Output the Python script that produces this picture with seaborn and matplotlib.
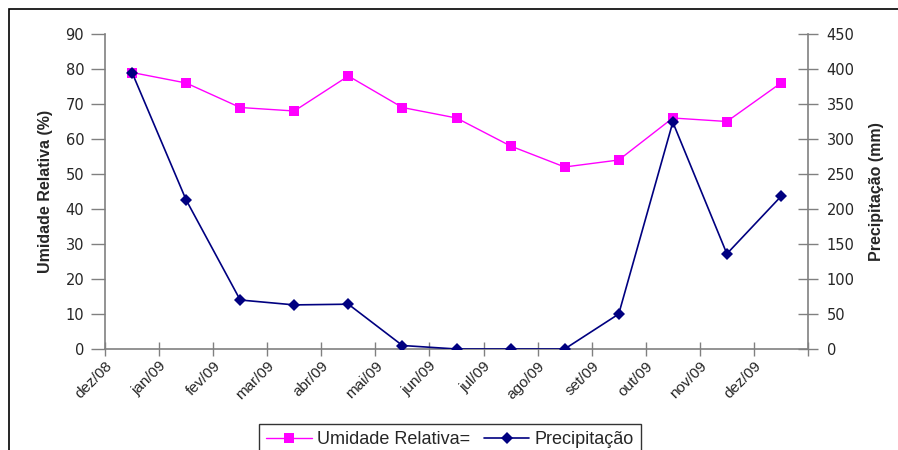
import matplotlib
matplotlib.use("Agg")
import matplotlib.pyplot as plt
import seaborn as sns
import pandas as pd
import numpy as np
from matplotlib.patches import Rectangle

months = ["dez/08", "jan/09", "fev/09", "mar/09", "abr/09", "mai/09", "jun/09",
          "jul/09", "ago/09", "set/09", "out/09", "nov/09", "dez/09"]
umidade = [79, 76, 69, 68, 78, 69, 66, 58, 52, 54, 66, 65, 76]
precipitacao = [395, 213, 70, 63, 64, 5, 0, 0, 0, 50, 324, 136, 218]

sns.set_theme(style="white")
plt.rcParams['font.family'] = ['Liberation Sans', 'DejaVu Sans']

df = pd.DataFrame({"pos": np.arange(len(months)) + 0.5,
                   "Umidade": umidade, "Precip": precipitacao})

fig = plt.figure(figsize=(8.98, 4.5), dpi=100)
fig.patch.set_facecolor("white")
fig.patches.append(Rectangle((9/898, -0.1), 1.2, 1 - 9/450 + 0.1, transform=fig.transFigure,
                             fill=False, edgecolor="black", linewidth=1.2, zorder=-1))

ax = fig.add_axes([105/898, 1 - 349/450, (808-105)/898, (349-34)/450])
ax2 = ax.twinx()

sns.lineplot(data=df, x="pos", y="Umidade", ax=ax, color="#FF00FF", marker="s",
             markersize=7, markeredgewidth=0, linewidth=1, label="Umidade Relativa=", legend=False)
sns.lineplot(data=df, x="pos", y="Precip", ax=ax2, color="#000080", marker="D",
             markersize=6, markeredgewidth=0, linewidth=1.2, label="Precipitação", legend=False)

ax.set_xlim(0, len(months))
ax.set_ylim(0, 90)
ax2.set_ylim(0, 450)
ax.set_yticks(np.arange(0, 91, 10))
ax2.set_yticks(np.arange(0, 451, 50))
ax.set_xticks(np.arange(0, len(months) + 1))
ax.set_xticklabels(months + [""], rotation=45, ha="right", rotation_mode="anchor")

for a in (ax, ax2):
    for s in a.spines.values():
        s.set_color("#808080")
        s.set_linewidth(1.2)
    a.spines["top"].set_visible(False)
    a.grid(False)
ax.spines["right"].set_visible(False)
ax2.spines["left"].set_visible(False)
ax2.spines["bottom"].set_visible(False)

ax.tick_params(axis="y", direction="out", length=10, width=1, color="#808080",
               labelsize=10.5, pad=5, left=True)
ax.tick_params(axis="x", direction="inout", length=10, width=1, color="#808080",
               labelsize=11, pad=2, bottom=True)
ax2.tick_params(axis="y", direction="inout", length=15, width=1, color="#808080",
                labelsize=10.5, pad=6, right=True)
for lab in ax.get_yticklabels() + ax2.get_yticklabels():
    lab.set_family(['DejaVu Sans'])

ax.set_xlabel("")
lab_font = ['Liberation Sans Narrow', 'Liberation Sans', 'DejaVu Sans']
ax.set_ylabel("Umidade Relativa (%)", fontsize=11.5, fontweight="bold", family=lab_font, labelpad=9)
ax2.set_ylabel("Precipitação (mm)", fontsize=11.5, fontweight="bold", family=lab_font, labelpad=10)

h1, l1 = ax.get_legend_handles_labels()
h2, l2 = ax2.get_legend_handles_labels()
leg = fig.legend(h1 + h2, l1 + l2, loc="upper center", bbox_to_anchor=(450/898, 1 - 424/450),
                 ncol=2, frameon=True, fancybox=False, fontsize=13, handlelength=2.5,
                 borderpad=0.4, columnspacing=0.8, handletextpad=0.28, borderaxespad=0)
leg.get_frame().set_edgecolor("black")
leg.get_frame().set_linewidth(1)

fig.savefig("out.png", dpi=100)
